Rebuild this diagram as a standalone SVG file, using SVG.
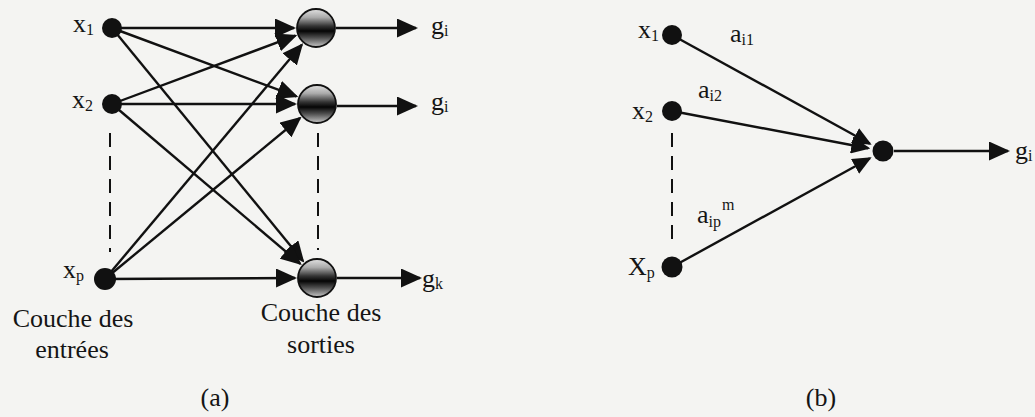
<svg xmlns="http://www.w3.org/2000/svg" width="1035" height="417" viewBox="0 0 1035 417">
<style>
.t{font-family:"Liberation Serif","Times New Roman",serif;font-size:26px;fill:#151515}
.s{font-size:16px}
.in{fill:#111}
.out{fill:url(#sph);stroke:#111;stroke-width:1.8}
.ca{stroke:#111;stroke-width:2.4;fill:none;marker-end:url(#ah)}
.cb{stroke:#111;stroke-width:2.4;fill:none;marker-end:url(#ahb)}
.d{stroke:#111;stroke-width:2;stroke-dasharray:14 9;fill:none}
</style>
<defs>
<marker id="ah" markerUnits="userSpaceOnUse" markerWidth="21" markerHeight="19" refX="19" refY="9.5" orient="auto">
<path d="M0,0 L21,9.5 L0,19 z" fill="#111"/>
</marker>
<marker id="ahb" markerUnits="userSpaceOnUse" markerWidth="19" markerHeight="17" refX="17" refY="8.5" orient="auto">
<path d="M0,0 L19,8.5 L0,17 z" fill="#111"/>
</marker>
<linearGradient id="sph" x1="0" y1="0" x2="0" y2="1">
<stop offset="0" stop-color="#e2e2e2"/>
<stop offset="0.22" stop-color="#ababab"/>
<stop offset="0.45" stop-color="#333"/>
<stop offset="0.58" stop-color="#050505"/>
<stop offset="0.76" stop-color="#505050"/>
<stop offset="1" stop-color="#c8c8c8"/>
</linearGradient>
</defs>
<rect x="0" y="0" width="1035" height="417" fill="#f4f4f2"/>

<g id="connectors">
<line class="ca" x1="112" y1="28" x2="294" y2="28"/>
<line class="ca" x1="112" y1="28" x2="296.4" y2="96.4"/>
<line class="ca" x1="112" y1="28" x2="303" y2="261"/>
<line class="ca" x1="112" y1="104" x2="295.4" y2="35.7"/>
<line class="ca" x1="112" y1="104" x2="295" y2="104"/>
<line class="ca" x1="112" y1="104" x2="300.2" y2="263.8"/>
<line class="ca" x1="105" y1="279" x2="301.8" y2="44.8"/>
<line class="ca" x1="105" y1="279" x2="300" y2="118"/>
<line class="ca" x1="105" y1="279" x2="295" y2="278"/>
<line class="ca" x1="336" y1="28" x2="416" y2="28"/>
<line class="ca" x1="337" y1="106" x2="416" y2="106"/>
<line class="ca" x1="337" y1="278" x2="420" y2="278"/>
<line class="d" x1="110" y1="133" x2="110" y2="252"/>
<line class="d" x1="318" y1="133" x2="318" y2="250"/>
<line class="cb" x1="672" y1="35" x2="869.9" y2="143.8"/>
<line class="cb" x1="672" y1="111" x2="868.3" y2="148.2"/>
<line class="cb" x1="672" y1="267" x2="869.9" y2="158.2"/>
<line class="ca" x1="894" y1="151" x2="1008" y2="151"/>
<line class="d" x1="672" y1="133" x2="672" y2="248"/>
</g>

<g id="a-x1"><circle class="in" cx="112" cy="28" r="10"/><text class="t" x="73" y="32">x<tspan class="s" dy="3">1</tspan></text></g>
<g id="a-x2"><circle class="in" cx="112" cy="104" r="10"/><text class="t" x="72" y="108">x<tspan class="s" dy="3">2</tspan></text></g>
<g id="a-xp"><circle class="in" cx="105" cy="279" r="11"/><text class="t" x="63" y="278">x<tspan class="s" dy="3">p</tspan></text></g>
<g id="a-o1"><circle class="out" cx="316" cy="28" r="19"/><text class="t" x="431" y="34">g<tspan class="s" dy="2">i</tspan></text></g>
<g id="a-o2"><circle class="out" cx="317" cy="104" r="19"/><text class="t" x="431" y="110">g<tspan class="s" dy="2">i</tspan></text></g>
<g id="a-o3"><circle class="out" cx="317" cy="278" r="19"/><text class="t" x="422" y="287">g<tspan class="s" dy="2">k</tspan></text></g>
<g id="a-labels">
<text class="t" x="73" y="327" text-anchor="middle">Couche des</text>
<text class="t" x="72" y="358" text-anchor="middle">entrées</text>
<text class="t" x="321" y="321" text-anchor="middle">Couche des</text>
<text class="t" x="321" y="353" text-anchor="middle">sorties</text>
<text class="t" x="215" y="406" text-anchor="middle">(a)</text>
</g>

<g id="b-x1"><circle class="in" cx="672" cy="35" r="10"/><text class="t" x="638" y="38">x<tspan class="s" dy="3">1</tspan></text></g>
<g id="b-x2"><circle class="in" cx="672" cy="111" r="10"/><text class="t" x="632" y="119">x<tspan class="s" dy="3">2</tspan></text></g>
<g id="b-xp"><circle class="in" cx="672" cy="267" r="10.5"/><text class="t" x="628" y="275">X<tspan class="s" dy="3">p</tspan></text></g>
<g id="b-out"><circle class="in" cx="883" cy="151" r="10.5"/><text class="t" x="1015" y="159">g<tspan class="s" dy="2">i</tspan></text></g>
<g id="b-labels">
<text class="t" x="730" y="42">a<tspan class="s" dy="3">i1</tspan></text>
<text class="t" x="698" y="98">a<tspan class="s" dy="3">i2</tspan></text>
<text class="t" x="697" y="223">a<tspan class="s" dy="4">ip</tspan><tspan class="s" dy="-17" dx="1">m</tspan></text>
<text class="t" x="821" y="406" text-anchor="middle">(b)</text>
</g>
</svg>
